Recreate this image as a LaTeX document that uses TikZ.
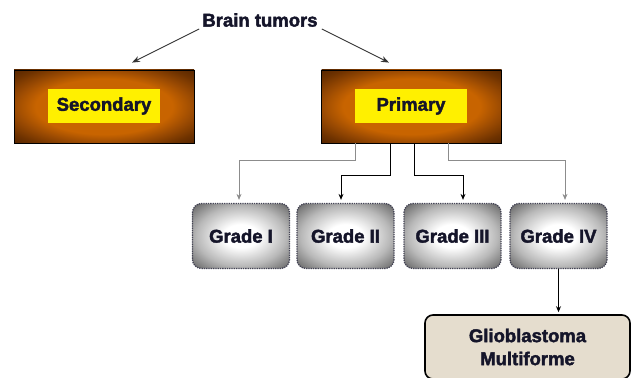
\documentclass[tikz,border=0pt]{standalone}
\usepackage{fontspec}
\setmainfont{Liberation Sans}[BoldFeatures={FakeBold=2.2}]
\usetikzlibrary{arrows.meta}
\definecolor{ink}{HTML}{15152A}
\definecolor{bark}{HTML}{4E2200}
\definecolor{umber}{HTML}{6E3200}
\definecolor{ember}{HTML}{9A4A02}
\definecolor{amber}{HTML}{C86400}
\definecolor{lemon}{HTML}{FFF000}
\definecolor{pewter}{HTML}{727272}
\definecolor{linen}{HTML}{E5DDCE}
\definecolor{wire}{HTML}{8C8C8C}
\pgfdeclareradialshading{brownglow}{\pgfpoint{0bp}{0bp}}{color(0bp)=(amber); color(19bp)=(amber); color(25bp)=(ember); color(31bp)=(umber); color(37bp)=(bark); color(50bp)=(bark)}
\pgfdeclareradialshading{greyglow}{\pgfpoint{0bp}{0bp}}{color(0bp)=(white); color(9bp)=(white); color(23bp)=(pewter!50); color(33bp)=(pewter); color(50bp)=(pewter!90!black)}

\begin{document}
\begin{tikzpicture}[
  x=1pt, y=-1pt,
  font=\fontsize{18.5}{23}\selectfont\bfseries,
  >={Stealth[length=8pt,width=6pt]},
  outer/.style={draw=black, line width=0.8pt, shading=brownglow,
                minimum width=180pt, minimum height=73pt, inner sep=0pt},
  tag/.style={fill=lemon, minimum width=112pt, minimum height=34pt,
              inner sep=0pt, text=ink},
  grade/.style={draw=ink!80, densely dotted, line width=1.3pt,
                rounded corners=9pt, shading=greyglow, minimum width=97pt,
                minimum height=65pt, inner sep=0pt, text=ink},
  final/.style={draw=black, line width=1.6pt, rounded corners=8pt,
                fill=linen, minimum width=205pt, minimum height=64pt,
                align=center, inner sep=0pt, text=ink},
  tarrow/.style={->, line width=0.9pt, draw=black!80},
  faint/.style={->, line width=0.8pt, draw=wire, shorten >=3pt,
                >={Stealth[length=6pt,width=5pt]}},
  firm/.style={->, line width=1pt, draw=black, shorten >=3pt,
               >={Stealth[length=6pt,width=5pt]}},
]
\path[use as bounding box] (0,0) rectangle (631,377);
\clip (0,0) rectangle (631,377);
\fill[white] (0,0) rectangle (631,377);

\node[inner sep=0pt, text=ink] (title) at (260,20) {Brain tumors};

\node[outer] (sec) at (104,106.5) {};
\node[tag] (sectag) at (104,106) {Secondary};

\node[outer] (prim) at (411.5,106.5) {};
\node[tag] (primtag) at (411,106) {Primary};

\node[grade] (g1) at (241,236) {Grade I};
\node[grade] (g2) at (345.5,236) {Grade II};
\node[grade] (g3) at (452.5,236) {Grade III};
\node[grade] (g4) at (558.5,236) {Grade IV};

\node[final] (glio) at (527.5,347) {Glioblastoma\\ Multiforme};

\draw[tarrow] ([xshift=-3pt,yshift=-2pt]title.south west)
  -- ([xshift=28pt,yshift=7pt]sec.north);
\draw[tarrow] ([xshift=4pt,yshift=-2pt]title.south east)
  -- ([xshift=-22.5pt,yshift=7pt]prim.north);

\foreach \s/\t/\d/\g/\st in {-56.5/-2/17/g1/faint, -21.5/-4.5/32/g2/firm,
                             2.5/10.5/32/g3/firm, 36.5/6.5/17/g4/faint}
  \draw[\st] ([xshift=\s pt]prim.south) -- ++(0,\d) -| ([xshift=\t pt]\g.north);

\draw[firm, line width=1.2pt, shorten >=2pt] (g4.south) -- (g4.south |- glio.north);

\end{tikzpicture}
\end{document}
